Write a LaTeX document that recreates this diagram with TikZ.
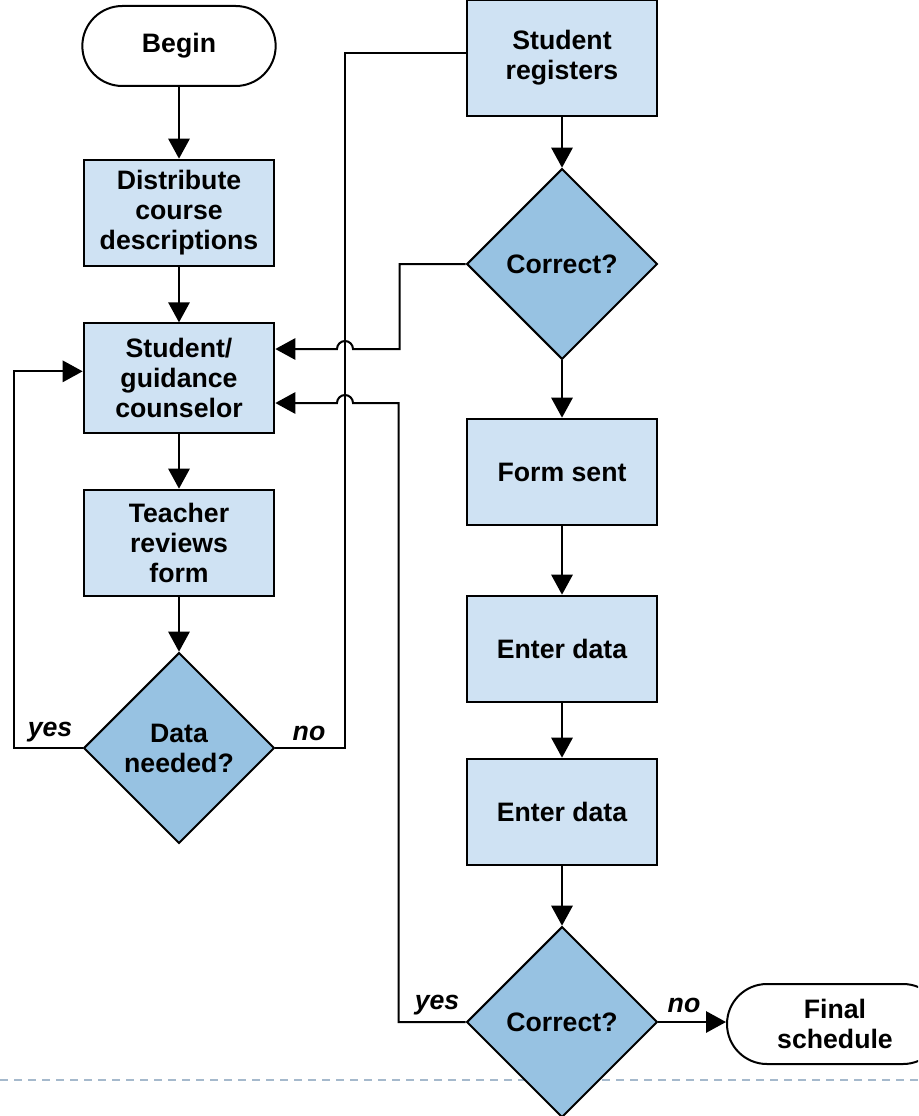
\documentclass[tikz,border=0pt]{standalone}
\usepackage{fontspec}
\setmainfont{Liberation Sans}
\usetikzlibrary{shapes.geometric,arrows.meta,calc}
\definecolor{boxfill}{HTML}{CFE2F3}
\definecolor{dfill}{HTML}{97C2E2}
\definecolor{dashc}{HTML}{A5B9CC}
\begin{document}
\begin{tikzpicture}[x=0.75pt,y=-0.75pt,
  txt/.style={font=\fontsize{20}{22.5}\selectfont\bfseries},
  proc/.style={txt,draw,fill=boxfill,line width=1.5pt,minimum width=143pt,minimum height=80pt,inner sep=2pt,align=center},
  dec/.style={txt,diamond,draw,fill=dfill,line width=1.5pt,aspect=1,minimum width=143pt,minimum height=143pt,inner sep=0pt,align=center},
  term/.style={txt,draw,fill=white,line width=1.5pt,rounded corners=30pt,minimum width=145pt,minimum height=60pt,align=center},
  conn/.style={line width=1.5pt},
  arr/.style={conn,-{Triangle[length=15pt,width=16pt]}},
  lbl/.style={font=\fontsize{20}{22}\selectfont\bfseries\itshape}]
\path[use as bounding box] (0,0) rectangle (918,1116);
\clip (0,0) rectangle (918,1116);
\draw[dashc,line width=1.5pt,dash pattern=on 6pt off 4.5pt] (0,1080) -- (918,1080);
% left column
\node[term,minimum width=145pt] (begin) at (179,46) {Begin};
\node[proc] (dist) at (179,213) {Distribute\\course\\descriptions};
\node[proc,minimum height=82pt] (stud) at (179,378) {Student/\\guidance\\counselor};
\node[proc] (teach) at (179,543) {Teacher\\reviews\\form};
\node[dec] (dn) at (179,748) {Data\\needed?};
% right column
\node[proc,minimum height=87pt] (reg) at (562,58) {Student\\registers};
\node[dec] (c1) at (562,264) {Correct?};
\node[proc] (form) at (562,472) {Form sent};
\node[proc] (e1) at (562,649) {Enter data};
\node[proc] (e2) at (562,812) {Enter data};
\node[dec] (c2) at (562,1022) {Correct?};
\node[term,minimum width=162pt] (final) at (835,1024) {Final\\schedule};
% coordinates
\coordinate (j1) at (345,349);
\coordinate (j2) at (345,403);
\coordinate (nl) at (345,748);
% vertical flow
\draw[arr] (begin) -- (dist);
\draw[arr] (dist) -- (stud);
\draw[arr] (stud) -- (teach);
\draw[arr] (teach) -- (dn);
\draw[arr] (reg) -- (c1);
\draw[arr] (c1) -- (form);
\draw[arr] (form) -- (e1);
\draw[arr] (e1) -- (e2);
\draw[arr] (e2) -- (c2);
% loops
\draw[arr] (dn.west) -- ++(-69,0) |- ([yshift=5pt]stud.west);
\draw[conn] (dn.east) -- (nl) |- ([yshift=4pt]reg.west);
\draw[arr] (c1.west) -- ++(-66,0) |- ([xshift=6pt]j1) arc[start angle=0,end angle=180,radius=6pt] -- (stud.east |- j1);
\draw[arr] (c2.west) -- ++(-67,0) |- ([xshift=6pt]j2) arc[start angle=0,end angle=180,radius=6pt] -- (stud.east |- j2);
\draw[arr] (c2.east) -- (final.west |- c2.east);
% labels
\node[lbl] (l1) at (50,732) {yes};
\node[lbl] (l2) at (309,733) {no};
\node[lbl] (l3) at (437,1005) {yes};
\node[lbl] (l4) at (684,1005) {no};
\end{tikzpicture}
\end{document}
